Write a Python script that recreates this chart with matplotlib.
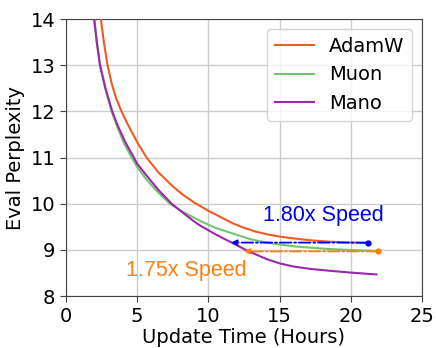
import matplotlib
matplotlib.use("Agg")
import matplotlib.pyplot as plt

# AdamW
adamw_t = [2.46, 2.67, 2.93, 3.22, 3.55, 3.91, 4.33, 5.0, 5.67, 6.5, 7.5, 8.2, 9.0, 10.0, 11.0, 11.77, 12.5, 13.3, 14.11, 15.0, 16.0, 17.16, 18.5, 20.0, 21.1]
adamw_y = [14.0, 13.5, 13.0, 12.6, 12.27, 12.0, 11.73, 11.34, 11.0, 10.68, 10.38, 10.2, 10.03, 9.85, 9.69, 9.57, 9.48, 9.40, 9.34, 9.29, 9.25, 9.21, 9.18, 9.16, 9.15]
# Muon
muon_t = [2.0, 2.18, 2.4, 2.77, 3.21, 3.6, 4.1, 4.62, 5.0, 5.6, 6.3, 7.31, 8.2, 9.42, 10.5, 11.77, 13.0, 14.11, 15.0, 16.0, 17.16, 18.5, 20.0, 21.8]
muon_y = [14.0, 13.5, 13.0, 12.5, 12.0, 11.68, 11.3, 11.0, 10.8, 10.55, 10.3, 10.0, 9.83, 9.63, 9.48, 9.35, 9.23, 9.16, 9.12, 9.08, 9.05, 9.02, 9.0, 8.98]
# Mano
mano_t = [1.99, 2.17, 2.4, 2.78, 3.26, 3.63, 4.2, 4.78, 5.0, 5.7, 6.5, 7.43, 8.2, 8.95, 9.42, 10.5, 11.0, 11.77, 12.7, 14.11, 15.0, 16.0, 17.16, 18.5, 20.0, 21.8]
mano_y = [14.0, 13.5, 13.0, 12.5, 12.0, 11.7, 11.32, 11.0, 10.87, 10.6, 10.3, 10.0, 9.81, 9.63, 9.53, 9.34, 9.26, 9.14, 8.99, 8.80, 8.71, 8.64, 8.59, 8.55, 8.51, 8.47]

series_names = ["AdamW", "Muon", "Mano"]
colors = ["#f25a24", "#72c472", "#9c27b0"]

# speedup annotations
blue_start = (21.2, 9.16)
blue_end = (11.6, 9.16)
orange_start = (21.9, 8.97)
orange_end = (12.5, 8.97)
blue_label = "1.80x Speed"
orange_label = "1.75x Speed"

xticks = [0, 5, 10, 15, 20, 25]
yticks = [8, 9, 10, 11, 12, 13, 14]

fig = plt.figure(figsize=(4.36, 3.48), dpi=100)
ax = fig.add_axes([0.151, 0.149, 0.817, 0.796])

for t, y, name, c in zip([adamw_t, muon_t, mano_t], [adamw_y, muon_y, mano_y], series_names, colors):
    ax.plot(t, y, color=c, lw=1.5, label=name, zorder=3)

ax.plot([blue_start[0]], [blue_start[1]], 'o', color='#0000ee', ms=3.5, zorder=4)
ax.annotate("", xy=blue_end, xytext=blue_start,
            arrowprops=dict(arrowstyle='-|>', color='#0000ee', lw=1.3, linestyle='-.',
                            mutation_scale=8, shrinkA=0, shrinkB=0), zorder=4)
ax.plot([orange_start[0]], [orange_start[1]], 'o', color='#ff7f0e', ms=3.5, zorder=4)
ax.annotate("", xy=orange_end, xytext=orange_start,
            arrowprops=dict(arrowstyle='-|>', color='#ff7f0e', lw=1.3, linestyle='-.',
                            mutation_scale=8, shrinkA=0, shrinkB=0), zorder=4)

ax.text(18.05, 9.75, blue_label, color='#0000ee', fontsize=15.5, ha='center', va='center',
        family=['Liberation Sans', 'DejaVu Sans'])
ax.text(8.47, 8.56, orange_label, color='#ff7f0e', fontsize=15.5, ha='center', va='center',
        family=['Liberation Sans', 'DejaVu Sans'])

ax.set_xlim(0, 25)
ax.set_ylim(8, 14)
ax.set_xticks(xticks)
ax.set_yticks(yticks)
ax.tick_params(labelsize=14, color='#444444', length=4)
ax.grid(True, color='#cccccc', lw=1.0)
ax.set_axisbelow(True)
for s in ax.spines.values():
    s.set_color('#444444')
ax.set_xlabel("Update Time (Hours)", fontsize=14, labelpad=2)
ax.set_ylabel("Eval Perplexity", fontsize=14, labelpad=4)
ax.legend(loc='upper right', fontsize=14, handlelength=2.0, borderaxespad=0.5)

fig.savefig("out.png", dpi=100)
